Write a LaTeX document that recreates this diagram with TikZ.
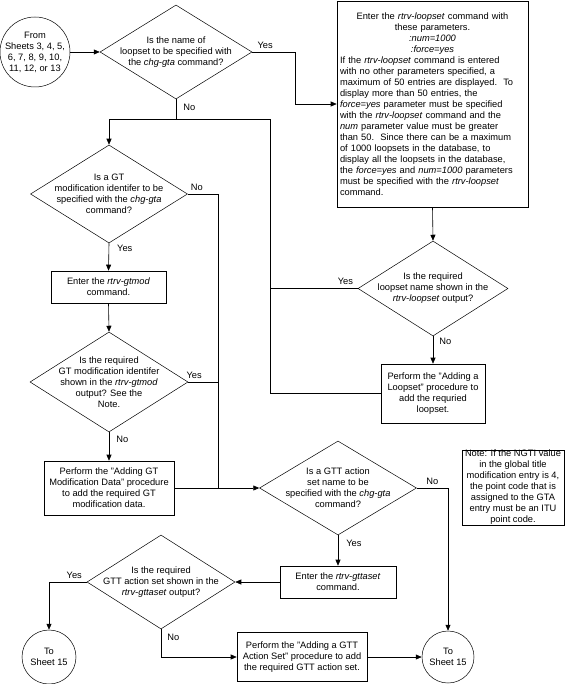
\documentclass[tikz,border=0pt]{standalone}
\usepackage{fontspec}
\setmainfont{Liberation Sans}
\usetikzlibrary{shapes.geometric,arrows.meta,positioning}

\tikzset{
  every node/.style={font=\fontsize{9.3}{11}\selectfont},
  flowline/.style={draw, line width=0.6pt},
  flowarrow/.style={flowline, -{Triangle[length=6pt,width=5pt]}},
  decision/.style={draw, shape=diamond, line width=0.5pt, align=center, inner xsep=-22pt, inner ysep=-12pt},
  procbox/.style={draw, rectangle, line width=0.6pt, align=center, inner sep=1pt},
  bigbox/.style={draw, rectangle, line width=0.6pt, text width=185pt, inner xsep=3pt},
  sheetref/.style={draw, circle, line width=0.5pt, align=center, inner sep=-10pt},
  branch/.style={inner sep=2pt}
}

\begin{document}
\begin{tikzpicture}[x=1pt, y=-1pt]
  \useasboundingbox (0,0) rectangle (565,684);

  % loopset part
  \node[sheetref, minimum size=70] (from) at (35,52) {From\\ Sheets 3, 4, 5,\\ 6, 7, 8, 9, 10,\\ 11, 12, or 13};
  \node[decision, minimum width=152, minimum height=94] (askname) at (176,52)
    {Is the name of\\ loopset to be specified with\\ the \textit{chg-gta} command?};
  \node[bigbox, minimum height=206] (listloop) at (432.5,104)
    {{\centering Enter the \textit{rtrv-loopset} command with\\ these parameters.\\
      \textit{:num=1000}\\ \textit{:force=yes}\par}\raggedright
     If the \textit{rtrv-loopset} command is entered\\
     with no other parameters specified, a\\
     maximum of 50 entries are displayed.\ \ To\\
     display more than 50 entries, the\\
     \textit{force=yes} parameter must be specified\\
     with the \textit{rtrv-loopset} command and the\\
     \textit{num} parameter value must be greater\\
     than 50.\ \ Since there can be a maximum\\
     of 1000 loopsets in the database, to\\
     display all the loopsets in the database,\\
     the \textit{force=yes} and \textit{num=1000} parameters\\
     must be specified with the \textit{rtrv-loopset}\\
     command.};
  \node[decision, minimum width=150, minimum height=95] (showloop) at (433,288.5)
    {Is the required\\ loopset name shown in the\\ \textit{rtrv-loopset} output?};
  \node[procbox, minimum width=104, minimum height=59] (addloop) at (433,393.5)
    {Perform the "Adding a\\ Loopset" procedure to\\ add the requried\\ loopset.};

  % GT modification part
  \node[decision, minimum width=157, minimum height=98] (askgtmod) at (109,194)
    {Is a GT\\ modification identifer to be\\ specified with the \textit{chg-gta}\\ command?};
  \node[procbox, minimum width=115, minimum height=32] (listgtmod) at (108.5,287)
    {Enter the \textit{rtrv-gtmod}\\ command.};
  \node[decision, minimum width=158, minimum height=100] (showgtmod) at (109,382)
    {Is the required\\ GT modification identifer\\ shown in the \textit{rtrv-gtmod}\\ output? See the\\ Note.};
  \node[procbox, minimum width=130, minimum height=54] (addgtmod) at (109,488)
    {Perform the "Adding GT\\ Modification Data" procedure\\ to add the required GT\\ modification data.};

  % GTT action set part
  \node[decision, minimum width=157, minimum height=94] (askgtt) at (338,488)
    {Is a GTT action\\ set name to be\\ specified with the \textit{chg-gta}\\ command?};
  \node[procbox, inner ysep=0pt, minimum width=102, minimum height=75] (note) at (513,487.5)
    {Note: If the NGTI value\\ in the global title\\ modification entry is 4,\\ the point code that is\\ assigned to the GTA\\ entry must be an ITU\\ point code.};
  \node[procbox, minimum width=116, minimum height=32] (listgtt) at (338,582)
    {Enter the \textit{rtrv-gttaset}\\ command.};
  \node[decision, minimum width=148, minimum height=94] (showgtt) at (161,582)
    {Is the required\\ GTT action set shown in the\\ \textit{rtrv-gttaset} output?};
  \node[procbox, minimum width=130, minimum height=49] (addgtt) at (302,657)
    {Perform the "Adding a GTT\\ Action Set" procedure to add\\ the required GTT action set.};
  \node[sheetref, minimum size=54] (tosheeta) at (49,657) {To\\ Sheet 15};
  \node[sheetref, minimum size=52] (tosheetb) at (448,657) {To\\ Sheet 15};

  % helpers where lines meet
  \coordinate (loopjoin) at (270,119);
  \coordinate (gtjoin) at (218,488);

  \draw[flowarrow] (from.east) -- (askname.west);
  \draw[flowarrow] (askname.east) -- node[branch, above, pos=0.3, yshift=1.5pt] {Yes} ++(43,0) |- (listloop.west);
  \draw[flowline] (askname.south) -- node[branch, right, pos=0.4, xshift=5pt] {No} (askname.south |- loopjoin);
  \draw[flowarrow] (listloop.south) -- (showloop.north);
  \draw[flowline] (showloop.west) -- node[branch, above, pos=0.14, yshift=1.5pt] {Yes} (showloop.west -| loopjoin);
  \draw[flowarrow] (showloop.south) -- node[branch, right, pos=0.2, xshift=4pt] {No} (addloop.north);
  \draw[flowarrow] (addloop.west) -| (loopjoin) -| (askgtmod.north);

  \draw[flowarrow] (askgtmod.south) -- node[branch, right, pos=0.2, xshift=6pt] {Yes} (listgtmod.north);
  \draw[flowline] (askgtmod.east) -- node[branch, above, pos=0.3, yshift=1.5pt] {No} (askgtmod.east -| gtjoin) -- (gtjoin);
  \draw[flowarrow] (listgtmod.south) -- (showgtmod.north);
  \draw[flowline] (showgtmod.east) -- node[branch, above, pos=0.2, yshift=1.5pt] {Yes} (showgtmod.east -| gtjoin);
  \draw[flowarrow] (showgtmod.south) -- node[branch, right, pos=0.25, xshift=5pt] {No} (addgtmod.north);
  \draw[flowarrow] (addgtmod.east) -- (askgtt.west);

  \draw[flowarrow] (askgtt.east) -- node[branch, above, pos=0.5, yshift=1.5pt] {No} (askgtt.east -| tosheetb.north) -- (tosheetb.north);
  \draw[flowarrow] (askgtt.south) -- node[branch, right, pos=0.25, xshift=6pt] {Yes} (listgtt.north);
  \draw[flowarrow] (listgtt.west) -- (showgtt.east);
  \draw[flowarrow] (showgtt.west) -- node[branch, above, pos=0.33, yshift=1.5pt] {Yes} (showgtt.west -| tosheeta.north) -- (tosheeta.north);
  \draw[flowarrow] (showgtt.south) -- node[branch, right, pos=0.3, xshift=4pt] {No} (showgtt.south |- addgtt.west) -- (addgtt.west);
  \draw[flowarrow] (addgtt.east) -- (tosheetb.west);
\end{tikzpicture}
\end{document}
